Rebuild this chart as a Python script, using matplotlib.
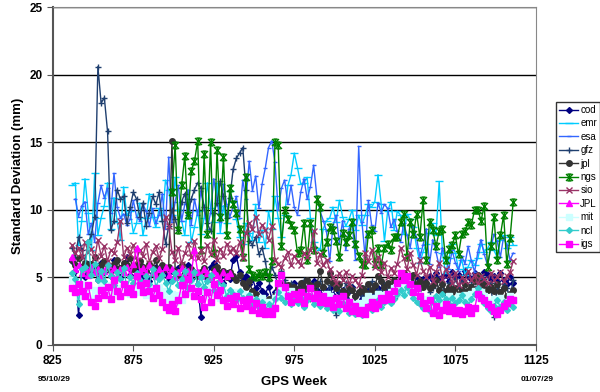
import numpy as np
import matplotlib
matplotlib.use('Agg')
import matplotlib.pyplot as plt
from matplotlib.path import Path

plt.rcParams['font.family'] = ['Liberation Sans', 'DejaVu Sans']

nan = float('nan')

# GPS weeks (every second week)
weeks = np.arange(837, 1112, 2)

cod = [6.2, 5.5, 2.2, 5.8, 5.0, 6.0, 5.3, 5.7, 4.8, 6.1,
       5.4, 5.9, 5.1, 6.3, 5.6, 5.0, 5.8, 6.5, 5.2, 5.7,
       5.5, 6.0, 5.1, 5.4, 4.7, 5.3, 5.8, 5.0, 5.6, 5.2,
       4.8, 5.5, 5.0, 5.7, 4.6, 5.3, 5.9, 4.9, 5.4, 4.5,
       2.1, 4.7, 5.2, 5.8, 6.1, 5.5, 5.0, 4.6, 5.3, 4.9,
       6.3, 6.6, 5.4, 4.8, 5.1, 4.5, 4.9, 4.2, 4.6, 4.0,
       3.8, 4.3, 3.5, 3.9, 3.6, 4.1, 4.4, 3.8, 4.2, 4.6,
       4.0, 4.5, 4.2, 3.9, 4.4, 4.7, 4.1, 3.8, 4.3, 4.0,
       4.2, 3.7, 4.4, 3.9, 4.1, 3.5, 4.0, 4.3, 3.6, 3.9,
       3.4, 3.8, 4.1, 3.6, 3.9, 4.2, 3.7, 4.4, 4.0, 4.3,
       4.1, 4.5, 4.0, 4.6, 4.3, 4.8, 4.4, 5.0, 4.7, 4.9,
       4.6, 5.1, 4.8, 5.3, 4.9, 5.0, 5.2, 4.7, 5.4, 5.0,
       5.2, 4.8, 5.5, 5.1, 4.9, 5.3, 5.0, 4.6, 5.4, 5.2,
       4.9, 5.1, 4.7, 5.3, 4.8, 4.5, 5.0, 4.6]

emr = [11.8, 12.0, 7.4, 9.2, 12.3, 9.8, 7.0, 12.7, 8.1, 9.4,
       10.3, 12.0, 8.6, 10.9, 9.1, 7.8, 11.7, 9.6, 9.9, 8.3,
       9.0, 10.5, 8.1, 9.4, 11.2, 9.5, 8.7, 10.1, 9.2, 12.2,
       11.5, 9.6, 12.4, 10.0, 9.2, 8.1, 10.8, 7.6, 8.7, 9.9,
       8.2, 9.4, 12.0, 10.1, 9.1, 12.0, 8.3, 10.3, 9.0, 11.4,
       10.6, 9.3, 8.0, 7.5, 9.0, 8.3, 7.8, 10.4, 7.6, 8.5,
       7.2, 9.9, 8.6, 11.0, 9.4, 8.0, 9.6, 11.8, 12.6, 14.2,
       13.1, 11.9, 12.0, 12.4, 9.4, 7.6, 7.2, 7.0, 8.6, 9.2,
       9.4, 10.2, 9.1, 10.7, 9.5, 8.8, 9.3, 10.0, 8.5, 9.6,
       8.9, 9.6, 10.4, 10.2, 10.6, 12.6, 10.4, 7.7, 9.9, 10.6,
       8.5, 9.9, 9.6, 8.2, 9.7, 9.3, 8.7, 7.2, 6.1, 6.9,
       7.5, 8.3, 9.0, 8.1, 12.1, 6.8, 5.3, 6.4, 7.5, 6.8,
       5.6, 6.3, 5.2, 5.8, 6.3, 5.9, 6.4, 7.5, 6.9, 7.1,
       7.6, 7.0, 6.5, 7.8, 8.1, 7.2, 8.0, 7.4]

esa = [nan, 10.8, 9.5, 10.3, 10.6, 8.2, 9.0, 7.6, 10.5, 11.8,
       10.9, 11.6, 9.8, 12.7, 10.2, 9.4, 9.7, 8.9, 9.3, 10.7,
       9.5, 9.2, 10.4, 9.9, 8.8, 10.1, 9.0, 9.6, 11.2, 8.6,
       13.9, 9.1, 10.6, 11.8, 9.2, 10.4, 11.5, 8.9, 10.8, 9.6,
       11.4, 10.0, 8.6, 9.8, 12.3, 10.7, 9.1, 11.9, 10.4, 9.5,
       10.2, 11.0, 9.4, 12.2, 10.8, 13.6, 11.4, 12.5, 10.1, 11.9,
       13.1, 14.6, 15.1, 13.5, 10.0, 11.6, 12.2, 10.4, 11.8, 10.2,
       9.6, 11.3, 12.3, 10.8, 11.7, 13.3, 11.0, 9.9, 9.2, 8.4,
       6.2, 8.8, 9.6, 7.5, 9.2, 7.0, 8.6, 9.0, 6.3, 14.7,
       9.1, 6.5, 10.7, 8.9, 8.4, 10.5, 9.8, 10.4, 10.1, 8.7,
       9.3, 8.4, 7.6, 9.0, 8.1, 7.2, 8.8, 7.9, 6.5, 7.4,
       8.6, 6.0, 7.8, 6.9, 5.8, 7.2, 6.4, 5.6, 7.0, 6.1,
       5.5, 6.6, 6.0, 7.3, 6.2, 5.4, 6.9, 7.8, 6.7, 5.9,
       7.1, 8.2, 7.7, 6.5, 8.0, 7.4, 6.3, 6.8]

gfz = [7.2, 6.5, 8.0, 7.0, 6.2, 7.5, 8.2, 9.5, 20.6, 17.9,
       18.3, 15.8, 8.5, 9.2, 11.5, 10.8, 11.0, 9.0, 10.2, 11.3,
       10.8, 9.5, 10.5, 8.8, 9.8, 11.0, 10.4, 11.3, 9.2, 7.5,
       8.8, 10.0, 9.3, 8.5, 10.6, 11.2, 9.6, 10.8, 11.5, 12.0,
       11.6, 10.2, 9.0, 8.4, 9.8, 10.5, 12.1, 11.0, 9.4, 10.9,
       13.0, 13.8, 14.2, 14.6, 11.5, 7.7, 7.4, 8.0, 6.7, 7.2,
       6.2, 4.7, 5.8, 5.2, 4.4, 5.5, 4.8, 4.0, 4.6, 3.8,
       4.3, 3.6, 4.8, 4.1, 3.4, 4.5, 3.9, 4.7, 4.2, 3.7,
       4.4, 3.2, 2.2, 4.0, 3.5, 4.6, 3.9, 4.3, 3.1, 4.0,
       3.6, 4.2, 3.8, 4.7, 3.4, 4.1, 3.9, 4.5, 3.7, 4.3,
       4.0, 3.6, 4.4, 4.8, 4.2, 3.9, 4.6, 4.1, 3.8, 4.3,
       4.5, 3.9, 4.2, 4.8, 4.0, 4.4, 3.7, 4.6, 4.1, 4.9,
       4.3, 4.7, 4.0, 3.8, 4.5, 4.2, 3.6, 4.4, 4.9, 4.1,
       4.6, 2.1, 4.3, 3.9, 4.5, 4.2, 3.5, 4.8]

jpl = [6.3, 5.9, 6.4, 5.8, 6.1, 5.6, 6.0, 6.5, 5.7, 5.9,
       6.2, 5.8, 5.5, 6.0, 6.3, 5.7, 6.1, 5.9, 6.4, 5.6,
       5.9, 6.2, 5.8, 5.5, 6.0, 5.7, 6.3, 5.4, 5.9, 5.6,
       5.8, 15.1, 5.5, 5.2, 5.9, 5.4, 5.1, 5.6, 5.3, 5.0,
       5.4, 5.7, 5.2, 4.9, 5.6, 5.8, 5.3, 5.5, 5.0, 5.4,
       5.1, 4.8, 5.2, 4.6, 4.3, 4.7, 4.0, 3.8, 3.5, 3.3,
       3.2, 3.4, 3.3, 3.6, 4.2, 4.5, 4.0, 4.4, 3.9, 4.3,
       4.1, 4.6, 4.2, 4.8, 4.4, 4.0, 4.5, 5.5, 4.3, 4.7,
       5.3, 4.6, 4.2, 4.5, 4.0, 3.8, 4.3, 4.1, 3.6, 3.9,
       4.2, 3.9, 4.5, 4.1, 4.4, 5.1, 4.7, 4.3, 4.6, 4.2,
       4.8, 4.4, 5.0, 5.3, 4.6, 4.9, 5.2, 4.5, 4.7, 4.3,
       4.6, 4.2, 4.4, 4.8, 4.1, 4.5, 4.0, 4.3, 3.9, 4.2,
       3.8, 4.1, 4.5, 4.0, 4.3, 4.7, 5.2, 4.6, 4.4, 4.1,
       4.3, 4.0, 4.5, 3.9, 4.2, 3.6, 3.8, 4.1]

ngs = [nan] * 30 + [
       nan, 11.3, 14.8, 8.5, 11.8, 14.0, 9.6, 12.9, 13.6, 15.1,
       7.0, 14.1, 8.2, 15.0, 6.8, 14.4, 9.5, 13.9, 8.1, 11.6,
       10.4, 9.8, 8.6, 6.5, 12.4, 5.6, 5.2, 5.0, 5.3, 5.1,
       5.4, 5.0, 6.2, 15.0, 14.8, 7.3, 10.0, 9.3, 8.9, 8.5,
       6.8, 7.0, 9.0, 6.3, 9.0, 7.0, 10.8, 10.2, 6.8, 7.6,
       8.7, 8.5, 7.7, 6.5, 8.3, 7.6, 8.1, 9.1, 7.5, 6.6,
       6.0, 5.9, 8.2, 8.5, 6.0, 7.2, 5.9, 7.2, 7.5, 7.0,
       8.0, 8.0, 9.1, 9.7, 6.5, 9.1, 8.2, 9.7, 8.0, 10.7,
       6.3, 9.1, 8.5, 7.3, 8.4, 8.6, 6.3, 7.1, 7.4, 8.1,
       6.7, 8.2, 8.4, 9.1, 8.9, 10.0, 10.0, 9.2, 10.3, 5.8,
       7.3, 9.5, 6.3, 8.1, 9.6, 6.0, 7.9, 10.6]

sio = [7.4, 6.8, 7.2, 6.5, 7.6, 6.9, 7.1, 6.4, 7.8, 6.6,
       7.3, 6.2, 7.0, 6.8, 7.6, 9.2, 6.5, 7.2, 6.7, 7.4,
       6.3, 7.0, 6.6, 7.5, 6.1, 6.9, 7.3, 6.4, 7.1, 9.5,
       8.8, 6.9, 6.3, 7.2, 6.0, 6.8, 7.5, 6.5, 7.7, 6.4,
       7.0, 6.2, 7.4, 6.7, 7.8, 6.3, 7.1, 6.6, 7.5, 6.9,
       7.2, 6.8, 7.6, 6.4, 8.3, 9.0, 8.6, 9.5, 8.2, 8.9,
       8.5, 7.8, 8.8, 6.3, 6.0, 5.8, 6.4, 6.9, 5.9, 6.6,
       6.2, 5.9, 6.8, 6.5, 7.0, 8.4, 6.1, 6.7, 5.9, 6.3,
       5.6, 5.0, 4.6, 5.3, 4.8, 5.4, 4.5, 5.1, 4.8, 4.4,
       5.2, 6.8, 6.2, 7.0, 5.8, 6.5, 5.4, 6.1, 5.0, 5.7,
       5.3, 6.0, 7.2, 6.4, 5.6, 6.8, 5.9, 5.2, 6.3, 5.5,
       5.0, 5.8, 4.7, 5.4, 6.1, 4.9, 5.6, 5.2, 4.6, 5.3,
       4.4, 5.0, 4.7, 5.5, 4.8, 5.2, 4.5, 5.1, 4.9, 4.6,
       5.3, 4.8, 5.0, 5.4, 4.7, 5.1, 5.4, 6.2]

JPL = [6.5, 5.6, 5.9, 5.3, 5.7, 5.2, 5.8, 5.4, 5.6, 5.1,
       5.5, 5.9, 5.3, 5.7, 5.0, 5.6, 5.4, 5.8, 5.2, 6.0,
       7.2, 5.5, 5.7, 5.3, 5.9, 5.4, 5.1, 5.6, 5.3, 5.8,
       5.2, 5.6, 5.0, 5.4, 5.7, 5.1, 5.5, 5.3, 7.0, 5.4,
       5.1, 5.6, 5.3, 5.0, 5.5, 5.2, 4.9, 5.4, 5.1, 5.3] + [nan] * 88

mit = [4.8, 4.2, 3.6, 4.5, 3.9, 4.3, 3.5, 4.1, 3.8, 4.6,
       4.0, 3.7, 4.4, 3.9, 4.2, 3.6, 4.5, 4.1, 3.8, 4.3,
       3.9, 4.4, 4.0, 3.7, 4.2, 3.5, 3.9, 4.3, 3.6, 4.0,
       3.4, 3.8, 3.2, 3.7, 3.3, 4.2, 3.9, 4.5, 3.6, 4.1,
       4.6, 4.0, 3.7, 4.3, 3.8, 4.1, 3.5, 3.9, 3.3, 3.7,
       3.5, 3.9, 3.4, 3.8, 3.2, 3.6, 3.0, 3.3, 3.1, 3.5,
       2.9, 3.2, 3.0, 3.5, 3.8, 4.2, 3.9, 3.6, 4.0, 3.7,
       3.5, 3.8, 3.3, 3.6, 3.9, 3.4, 3.7, 3.2, 3.5, 3.8,
       3.6, 3.3, 3.0, 3.4, 3.1, 2.8, 3.2, 3.0, 2.7, 3.1,
       2.9, 3.3, 3.6, 3.2, 3.5, 3.8, 3.4, 3.7, 3.3, 3.9,
       4.2, 3.8, 4.4, 4.0, 4.6, 4.3, 3.9, 4.1, 3.6, 3.4,
       3.2, 3.5, 2.6, 3.0, 2.8, 3.3, 3.1, 3.6, 3.2, 3.4,
       3.6, 3.3, 3.7, 3.4, 3.8, 4.0, 3.5, 3.9, 3.6, 3.2,
       3.0, 3.4, 3.1, 3.5, 2.8, 3.2, 3.6, 3.3]

ncl = [5.3, 4.9, 3.0, 5.6, 5.8, 7.6, 5.2, 6.0, 4.8, 5.5,
       4.7, 5.9, 5.1, 4.4, 5.4, 4.9, 5.7, 4.2, 5.0, 4.6,
       5.3, 4.8, 4.1, 5.1, 4.5, 5.6, 4.3, 4.9, 5.2, 4.6,
       4.0, 4.7, 5.3, 4.4, 4.9, 5.5, 4.2, 4.8, 5.4, 4.5,
       5.0, 4.3, 4.7, 5.2, 4.1, 4.6, 3.9, 4.4, 3.6, 4.1,
       3.8, 3.3, 4.0, 3.5, 3.1, 3.7, 2.9, 3.4, 2.8, 3.2,
       2.6, 3.0, 2.8, 3.4, 3.9, 3.5, 3.2, 3.7, 3.0, 3.3,
       3.1, 3.5, 2.8, 3.3, 3.6, 3.0, 3.4, 2.9, 3.2, 2.7,
       3.0, 2.6, 2.9, 2.5, 3.1, 2.7, 2.4, 2.8, 2.3, 2.6,
       2.2, 2.5, 2.9, 2.6, 3.0, 3.3, 2.8, 3.2, 3.5, 3.1,
       3.4, 3.8, 4.1, 3.7, 4.3, 3.9, 3.5, 3.2, 3.0, 2.7,
       2.9, 2.5, 3.2, 3.6, 3.3, 3.8, 3.4, 3.0, 3.5, 3.1,
       3.3, 3.7, 3.2, 2.9, 3.4, 3.8, 4.2, 3.6, 3.1, 2.7,
       2.5, 2.9, 3.3, 2.8, 3.2, 2.6, 3.0, 2.8]

igs = [4.2, 3.9, 4.5, 4.0, 3.6, 4.4, 3.2, 2.9, 3.5, 4.1,
       3.7, 4.3, 3.4, 4.8, 4.0, 3.6, 4.5, 3.9, 4.2, 3.8,
       5.1, 4.4, 3.9, 4.6, 4.0, 3.5, 4.2, 3.7, 3.2, 2.8,
       2.6, 3.0, 2.5, 3.3, 4.4, 3.8, 4.9, 4.2, 3.6, 4.0,
       3.4, 2.8, 3.9, 3.2, 4.5, 3.7, 4.1, 3.3, 2.9, 3.5,
       3.0, 3.6, 2.7, 3.3, 2.9, 3.4, 2.6, 3.1, 2.4, 2.8,
       2.3, 2.5, 2.3, 2.7, 4.6, 5.2, 4.3, 3.6, 3.2, 3.8,
       3.4, 3.9, 3.1, 3.6, 4.2, 3.5, 3.8, 3.2, 3.6, 3.1,
       3.3, 2.8, 3.5, 3.0, 3.6, 2.7, 3.2, 2.5, 2.9, 2.4,
       2.6, 2.3, 2.8, 3.2, 2.7, 3.0, 3.5, 3.3, 3.8, 3.4,
       4.0, 4.6, 5.3, 4.8, 5.1, 4.5, 3.9, 4.2, 3.6, 3.1,
       2.7, 3.3, 2.4, 2.9, 2.2, 2.6, 3.0, 2.5, 2.8, 2.4,
       2.6, 2.3, 2.5, 2.8, 2.4, 2.7, 3.8, 3.5, 3.3, 3.0,
       2.8, 2.5, 2.3, 2.6, 2.9, 3.1, 3.4, 3.3]

# asterisk marker (x with a vertical bar), like the Excel star
star = Path([(-1, -1), (1, 1), (-1, 1), (1, -1), (0, -1), (0, 1),
             (-0.6, 1), (0.6, 1), (-0.6, -1), (0.6, -1)],
            [Path.MOVETO, Path.LINETO] * 5)

series = [
    ('cod', cod, '#000080', 'D', 3.0),
    ('emr', emr, '#00CCFF', '_', 6.0),
    ('esa', esa, '#3366FF', '_', 3.5),
    ('gfz', gfz, '#1F3F6F', '+', 5.0),
    ('jpl', jpl, '#333333', 'o', 4.0),
    ('ngs', ngs, '#008000', star, 5.0),
    ('sio', sio, '#993366', 'x', 4.0),
    ('JPL', JPL, '#FF00FF', '^', 4.0),
    ('mit', mit, '#CCFFFF', 's', 4.0),
    ('ncl', ncl, '#33CCCC', 'D', 3.0),
    ('igs', igs, '#FF00FF', 's', 4.5),
]

fig = plt.figure(figsize=(6.0, 3.92), dpi=100)
ax = fig.add_axes([0.088, 0.12, 0.805, 0.862])

for name, vals, col, mk, ms in series:
    ax.plot(weeks, vals, color=col, lw=1.0, marker=mk, ms=ms,
            mfc=col, mec=col, mew=1.0, label=name)

ax.set_xlim(825, 1125)
ax.set_ylim(0, 25)
ax.set_xticks(np.arange(825, 1126, 50))
ax.set_yticks(np.arange(0, 26, 5))
ax.yaxis.grid(True, color='black', lw=1.0)
ax.set_axisbelow(True)
for lab in ax.get_xticklabels() + ax.get_yticklabels():
    lab.set_fontweight('bold')
ax.tick_params(labelsize=8.5, length=4, color='#555555')
for s in ['left', 'bottom']:
    ax.spines[s].set_color('#555555')
    ax.spines[s].set_linewidth(1.5)
for s in ['top', 'right']:
    ax.spines[s].set_color('#888888')

ax.set_xlabel('GPS Week', fontsize=9.5, fontweight='bold', labelpad=6)
ax.set_ylabel('Standard Deviation (mm)', fontsize=9.5, fontweight='bold')

fig.text(0.063, 0.028, '95/10/29', fontsize=6, fontweight='bold')
fig.text(0.867, 0.028, '01/07/29', fontsize=6, fontweight='bold')

leg = ax.legend(loc='center left', bbox_to_anchor=(556 / 600, 215 / 392),
                bbox_transform=fig.transFigure, fontsize=7, frameon=True,
                fancybox=False, edgecolor='black', handlelength=2.0,
                handletextpad=0.2, borderpad=0.3, labelspacing=0.35,
                borderaxespad=0)
leg.get_frame().set_linewidth(1.0)

fig.savefig('out.png', dpi=100)
